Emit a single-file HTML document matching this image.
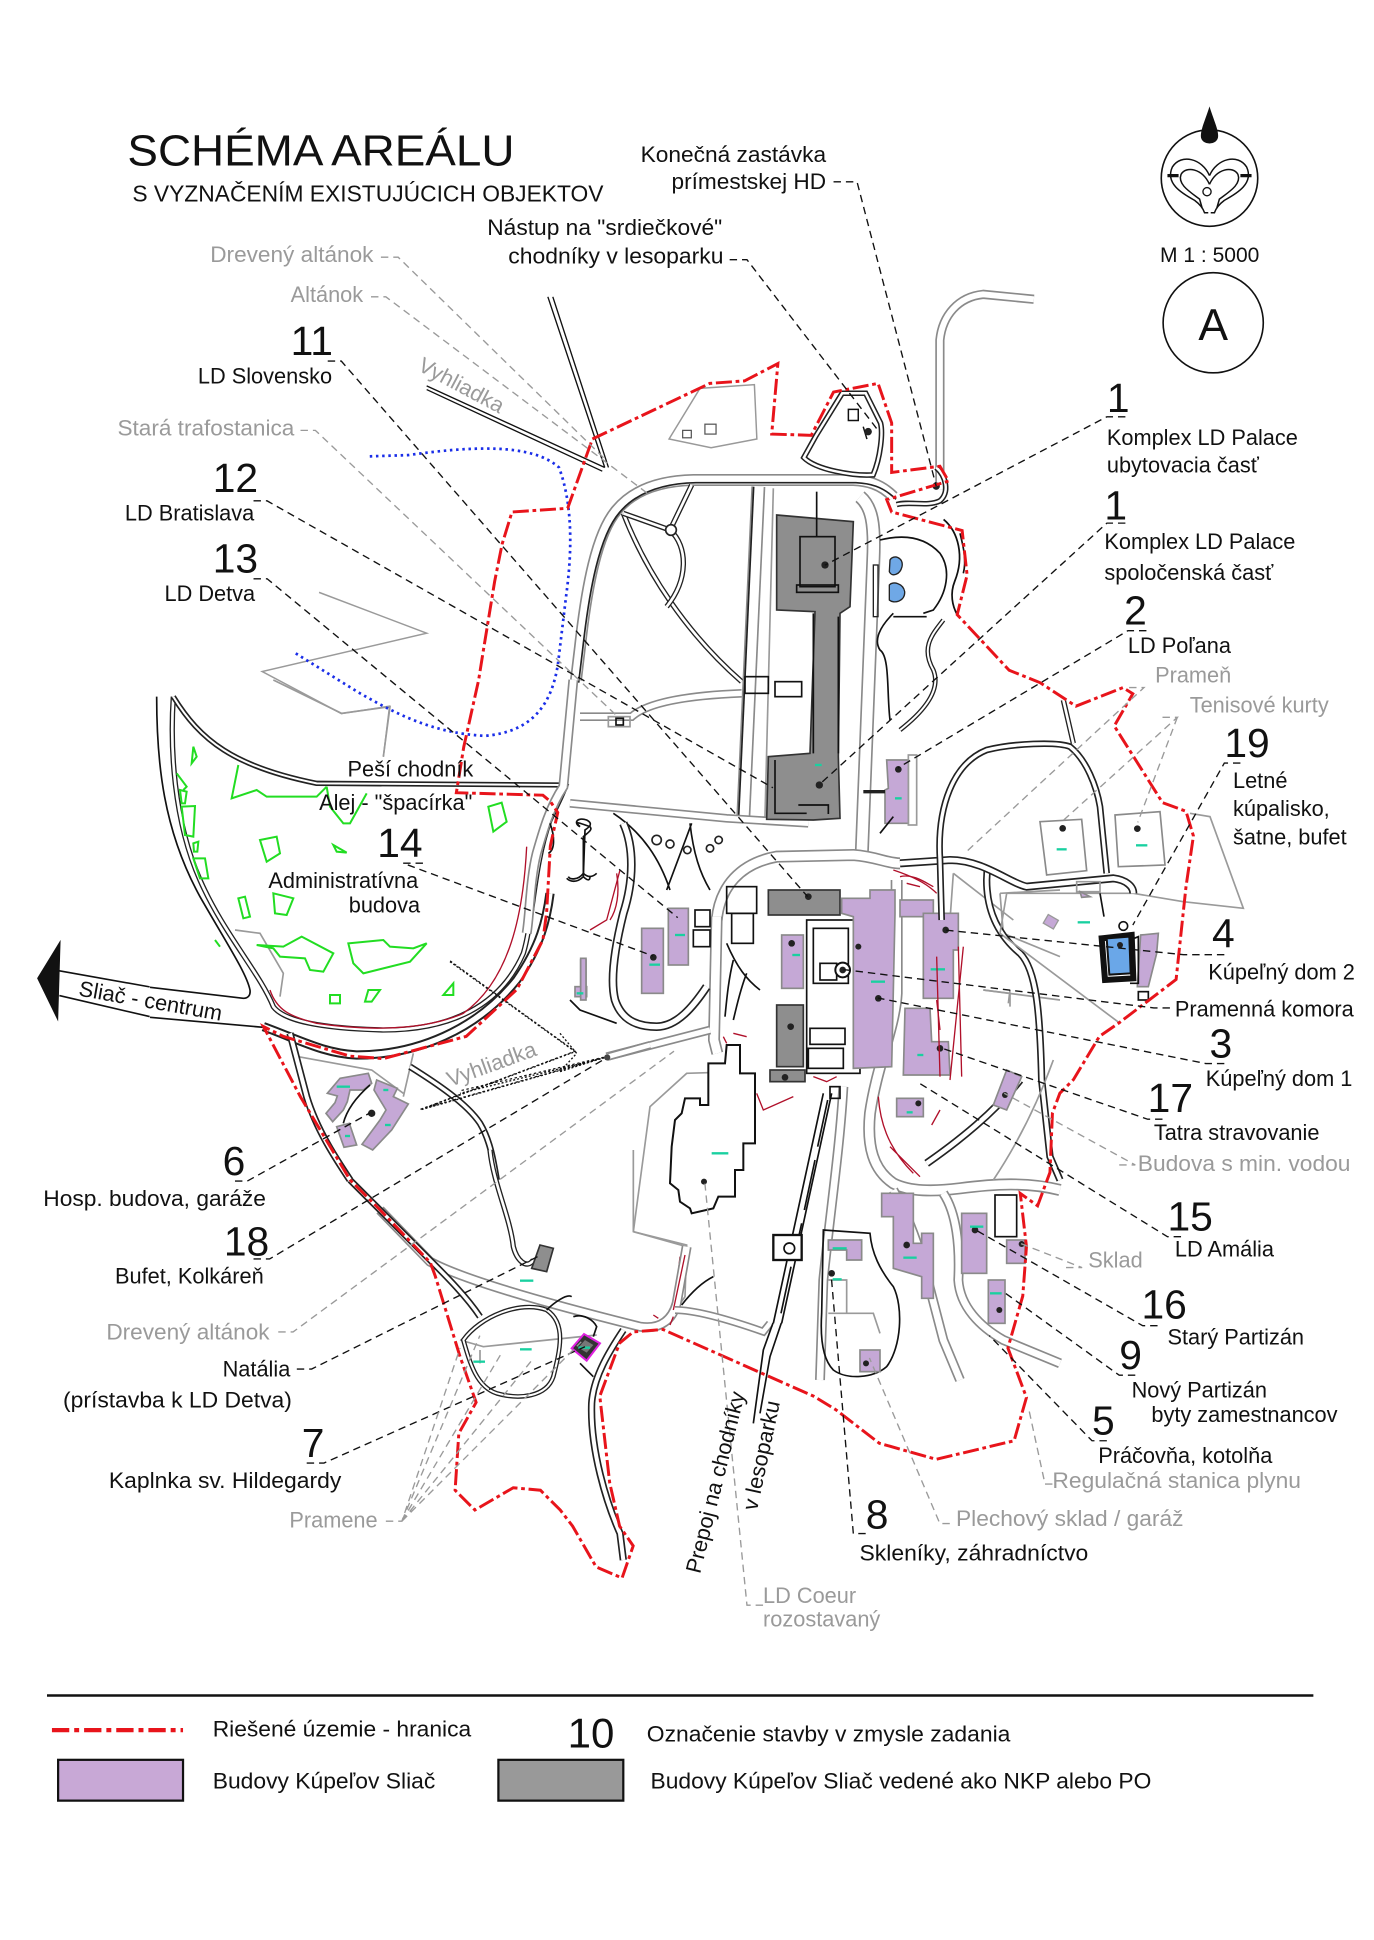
<!DOCTYPE html>
<html><head><meta charset="utf-8">
<style>
html,body{margin:0;padding:0;background:#fff;}
svg{display:block;}
text{font-family:"Liberation Sans",Arial,sans-serif;}
.t{font-size:17.6px;fill:#111;}
.g{font-size:17.6px;fill:#9a9a9a;}
.n{font-size:33px;fill:#111;}
.ld{fill:none;stroke:#111;stroke-width:1.1;stroke-dasharray:6 4;}
.lg{fill:none;stroke:#9a9a9a;stroke-width:1.1;stroke-dasharray:6 4;}
.pu{fill:#c5a8d6;stroke:#8a8a8a;stroke-width:5;}
.gb{fill:#8e8e8e;stroke:#333;stroke-width:5;}
.ol{fill:none;stroke:#111;stroke-width:5;}
.gl{fill:none;stroke:#9a9a9a;stroke-width:5;}
.gr{fill:none;stroke:#22dd22;stroke-width:6;}
.rl{fill:none;stroke:#b0102a;stroke-width:4;}
.cy{stroke:#19d0a0;stroke-width:7;}
</style></head>
<body>
<svg width="1374" height="1940" viewBox="0 0 1374 1940" xmlns="http://www.w3.org/2000/svg" xmlns:xlink="http://www.w3.org/1999/xlink">
<defs>
<!-- zoom8 roads -->
<path id="a1" d="M1000,110 C960,70 920,62 880,60 L400,60 C300,62 220,90 170,150 C110,220 80,380 60,560 L48,660"/>
<path id="a2" d="M190,160 C260,340 380,520 545,665"/>
<path id="a3" d="M190,160 L330,210 L395,75 M330,210 C385,260 385,360 320,440"/>
<path id="a4" d="M595,80 L550,1070"/>
<path id="a5" d="M900,110 C935,140 945,190 940,300 L905,1190"/>
<path id="a6" d="M60,770 L215,770 C270,720 420,705 545,700"/>
<path id="a7" d="M30,1030 L500,1075 L745,1090"/>
<path id="a8" d="M470,1380 C480,1280 540,1210 650,1190 L880,1185 C950,1190 980,1210 1020,1210"/>
<!-- zoom9 roads -->
<path id="b1" d="M470,110 L462,480 L472,520"/>
<path id="b2" d="M1010,0 L1010,340 C1005,440 950,560 930,700 C920,800 940,870 1000,910 C1050,935 1120,935 1200,925 C1300,912 1400,905 1500,930"/>
<path id="b3" d="M1000,930 C1040,1000 1070,1080 1090,1150 L1150,1380 L1200,1500"/>
<path id="b4" d="M1150,940 C1190,1000 1200,1100 1195,1200 C1200,1280 1260,1340 1330,1380 L1500,1450"/>
<path id="b5" d="M850,620 C840,800 810,1000 790,1200 L780,1500"/>
<path id="b6" d="M190,-170 C222,-100 222,0 190,100 C165,200 150,300 165,360 C185,420 230,440 290,440 C350,440 400,380 440,320"/>
<path id="b7" d="M140,530 L450,450"/>
<path id="b8" d="M1100,850 C1200,780 1300,700 1380,600"/>
<path id="b9" d="M1282,-40 L1280,0 C1280,100 1320,170 1380,220 C1430,270 1440,400 1445,600 L1470,830 L1500,900"/>
<!-- zoom10 roads -->
<path id="c1" d="M70,50 C60,200 70,420 150,600 C220,760 330,880 370,980 C400,1020 500,1045 700,1050 C900,1050 1050,980 1120,820 C1150,720 1150,560 1200,420 C1220,380 1240,340 1250,310"/>
<path id="c2" d="M70,50 C150,180 250,260 500,310 L1240,315"/>
<path id="c3" d="M340,1040 C450,1080 520,1120 620,1125 C800,1125 980,1050 1100,900 C1170,800 1190,720 1200,640"/>
<path id="c4" d="M1270,0 L1240,320 C1200,380 1180,450 1160,520 C1140,600 1140,700 1130,760"/>
<path id="c5" d="M420,1060 L470,1250 C500,1350 560,1440 600,1500"/>
<path id="c6" d="M780,1160 C860,1210 950,1270 990,1330 C1020,1380 1030,1440 1040,1500"/>
<path id="c7" d="M1375,1130 L1500,1095"/>
<!-- zoom11 roads -->
<path id="d1" d="M0,180 L150,335 C250,390 500,460 780,530 C845,540 878,505 890,460 L920,290"/>
<path id="d2" d="M-90,90 L150,330 C200,380 260,440 300,500"/>
<path id="d3" d="M330,0 C340,100 390,200 400,290 C410,330 440,360 460,330"/>
<path id="d4" d="M250,570 C300,500 420,450 500,480 C560,520 540,600 520,680 C500,740 420,750 350,730 C290,710 270,640 250,570 Z"/>
<path id="d5" d="M730,540 C690,600 640,680 635,760 C630,900 680,1060 720,1150 L730,1230"/>
<path id="d6" d="M885,480 C950,480 1050,510 1150,545 L1170,520"/>
<!-- zoom12 roads -->
<path id="e1" d="M0,730 L150,720 C250,720 330,790 380,800 L640,775 C680,780 700,800 700,820"/>
<path id="e2" d="M125,900 L120,720 C110,560 160,430 260,390 C340,370 470,365 510,380 C560,420 590,500 600,560 L620,760"/>
<path id="e3" d="M490,240 L520,370"/>
<path id="e4" d="M130,0 C100,40 60,80 100,150 C120,200 90,260 0,330"/>
<!-- display roads -->
<path id="f1" d="M760,396 L760,275 C762,255 775,240 795,238 L836,242"/>
<path id="f2" d="M681,318 L660,352 L650,370 C660,380 690,385 706,384 C712,370 714,350 712,342 L700,318 Z"/>
<path id="f3" d="M757,378 C765,385 768,398 760,405 C750,410 735,405 725,408"/>
</defs>
<rect x="0" y="0" width="1374" height="1940" fill="#fff"/>

<!-- ===== ZOOM8 region ===== -->
<g transform="translate(560,460) scale(0.333333)">
<use xlink:href="#a1" fill="none" stroke="#8a8a8a" stroke-width="36"/><use xlink:href="#a1" fill="none" stroke="#fff" stroke-width="26"/>
<use xlink:href="#a1" fill="none" stroke="#222" stroke-width="5" transform="translate(8,8)"/>
<use xlink:href="#a2" fill="none" stroke="#222" stroke-width="16"/><use xlink:href="#a2" fill="none" stroke="#fff" stroke-width="8"/>
<use xlink:href="#a3" fill="none" stroke="#222" stroke-width="16"/><use xlink:href="#a3" fill="none" stroke="#fff" stroke-width="8"/>
<circle cx="333" cy="210" r="16" fill="#fff" stroke="#222" stroke-width="5"/>
<use xlink:href="#a4" fill="none" stroke="#8a8a8a" stroke-width="42"/><use xlink:href="#a4" fill="none" stroke="#fff" stroke-width="32"/>
<use xlink:href="#a4" fill="none" stroke="#222" stroke-width="5" transform="translate(-14,0)"/>
<path d="M640,85 L615,1070" class="gl"/>
<use xlink:href="#a5" fill="none" stroke="#8a8a8a" stroke-width="42"/><use xlink:href="#a5" fill="none" stroke="#fff" stroke-width="32"/>
<use xlink:href="#a6" fill="none" stroke="#8a8a8a" stroke-width="26"/><use xlink:href="#a6" fill="none" stroke="#fff" stroke-width="16"/>
<use xlink:href="#a7" fill="none" stroke="#8a8a8a" stroke-width="26"/><use xlink:href="#a7" fill="none" stroke="#fff" stroke-width="16"/>
<use xlink:href="#a8" fill="none" stroke="#8a8a8a" stroke-width="36"/><use xlink:href="#a8" fill="none" stroke="#fff" stroke-width="26"/>
<path d="M960,240 C1020,225 1090,225 1140,280 C1175,330 1160,400 1120,450 L1090,460" class="ol" stroke-width="8"/>
<path d="M1000,460 C960,500 940,540 960,570 C990,590 980,700 990,780" class="ol" stroke-width="6"/>
<path d="M1200,220 C1210,260 1220,300 1210,340" class="ol" stroke-width="8"/>
<path d="M1000,470 L1100,470" class="ol" stroke-width="8"/>
<!-- palace -->
<path d="M650,165 L880,185 L870,440 L840,460 L835,890 L840,1075 L760,1080 L620,1078 L625,890 L750,880 L765,455 L650,450 Z" class="gb"/>
<rect x="720" y="230" width="105" height="150" class="ol" stroke-width="7"/>
<rect x="710" y="375" width="125" height="22" class="ol" stroke-width="6"/>
<path d="M760,460 L760,880 M835,470 L835,880" class="ol" stroke-width="8"/>
<path d="M645,900 L645,1060 L740,1060 M715,1035 L805,1035 L805,1062" class="ol" stroke-width="5"/>
<circle cx="795" cy="315" r="11" fill="#222"/><circle cx="778" cy="975" r="11" fill="#222"/>
<line x1="765" y1="915" x2="785" y2="915" class="cy"/>
<path d="M770,95 L770,230" class="ol" stroke-width="6"/>
<!-- pools -->
<path d="M990,300 C1000,282 1032,292 1026,320 C1020,345 995,352 988,335 Z" fill="#6fa8e6" stroke="#222" stroke-width="4"/>
<path d="M988,375 C998,362 1030,370 1034,395 C1036,425 1000,432 988,420 Z" fill="#6fa8e6" stroke="#222" stroke-width="4"/>
<rect x="940" y="315" width="14" height="155" fill="none" stroke="#222" stroke-width="4"/>
<!-- Polana -->
<path d="M980,900 L1045,900 L1045,1090 L975,1090 L975,990 L985,985 Z" class="pu"/>
<circle cx="1015" cy="928" r="10" fill="#222"/><line x1="1005" y1="1015" x2="1025" y2="1015" class="cy"/>
<rect x="1045" y="885" width="25" height="210" class="gl"/>
<path d="M910,995 L975,995" stroke="#222" stroke-width="10"/>
<!-- small structures -->
<rect x="555" y="650" width="70" height="50" class="ol"/><rect x="645" y="665" width="80" height="45" class="ol"/>
<rect x="145" y="770" width="65" height="30" class="gl"/><rect x="168" y="775" width="22" height="20" class="ol"/>
<path d="M1000,1070 L960,1120" class="ol"/>
<path d="M60,1100 C40,1080 60,1090 90,1100 C100,1110 80,1120 70,1130 L70,1240 C55,1260 30,1260 25,1250 M70,1240 C85,1255 100,1250 110,1240" class="ol" stroke-width="8"/>
<circle cx="290" cy="1140" r="14" fill="#fff" stroke="#222" stroke-width="5"/>
<circle cx="330" cy="1152" r="12" fill="#fff" stroke="#222" stroke-width="5"/>
<circle cx="382" cy="1170" r="11" fill="#fff" stroke="#222" stroke-width="5"/>
<circle cx="450" cy="1165" r="11" fill="#fff" stroke="#222" stroke-width="5"/>
<circle cx="476" cy="1140" r="11" fill="#fff" stroke="#222" stroke-width="5"/>
<path d="M160,1060 C250,1120 300,1200 330,1290 M390,1090 C400,1180 420,1240 450,1290 M395,1090 L320,1290" class="ol" stroke-width="6"/>
<path d="M1180,1240 L1170,1380 M1180,1240 L1360,1380" class="gl"/>
<path d="M170,1240 C180,1300 170,1350 150,1380" class="rl"/>
<path d="M1000,1230 C1060,1250 1100,1270 1130,1300" class="rl"/>
</g>

<!-- ===== ZOOM9 region ===== -->
<g transform="translate(560,880) scale(0.333333)">
<path d="M220,1055 L380,1095 L375,1250 L340,1300 M220,1055 L270,680 L380,580 L540,575" class="gl"/>
<path d="M1320,40 L1500,30 M1320,40 L1330,160 L1500,230 M1270,330 L1500,360 M1350,330 L1345,370" class="gl"/>
<use xlink:href="#b1" fill="none" stroke="#8a8a8a" stroke-width="36"/><use xlink:href="#b1" fill="none" stroke="#fff" stroke-width="26"/>
<use xlink:href="#b2" fill="none" stroke="#8a8a8a" stroke-width="36"/><use xlink:href="#b2" fill="none" stroke="#fff" stroke-width="26"/>
<use xlink:href="#b3" fill="none" stroke="#8a8a8a" stroke-width="30"/><use xlink:href="#b3" fill="none" stroke="#fff" stroke-width="20"/>
<use xlink:href="#b4" fill="none" stroke="#8a8a8a" stroke-width="30"/><use xlink:href="#b4" fill="none" stroke="#fff" stroke-width="20"/>
<use xlink:href="#b5" fill="none" stroke="#8a8a8a" stroke-width="30"/><use xlink:href="#b5" fill="none" stroke="#fff" stroke-width="20"/>
<use xlink:href="#b6" fill="none" stroke="#222" stroke-width="26"/><use xlink:href="#b6" fill="none" stroke="#fff" stroke-width="16"/>
<use xlink:href="#b7" fill="none" stroke="#8a8a8a" stroke-width="26"/><use xlink:href="#b7" fill="none" stroke="#fff" stroke-width="16"/>
<use xlink:href="#b8" fill="none" stroke="#222" stroke-width="24"/><use xlink:href="#b8" fill="none" stroke="#fff" stroke-width="14"/>
<use xlink:href="#b9" fill="none" stroke="#222" stroke-width="22"/><use xlink:href="#b9" fill="none" stroke="#fff" stroke-width="12"/>
<path d="M1300,900 C1380,780 1440,650 1480,540" class="gl" stroke-width="10"/>
<path d="M0,460 L50,520 L0,575 M0,575 L140,530" fill="none" stroke="#111" stroke-width="4" stroke-dasharray="6 6"/>
<!-- colonnade -->
<path d="M790,640 L640,1330 M815,640 L665,1330" class="ol" stroke-width="7"/>
<path d="M800,660 L770,800 M762,840 L730,990 M722,1030 L700,1130 M690,1160 L660,1300" class="ol" stroke-width="5" transform="translate(3,0)"/>
<rect x="640" y="1065" width="85" height="75" fill="#fff" stroke="#111" stroke-width="7"/>
<circle cx="688" cy="1105" r="16" fill="#fff" stroke="#111" stroke-width="5"/>
<rect x="810" y="620" width="30" height="35" class="ol"/>
<!-- lot 8 -->
<path d="M790,1050 L930,1060 C935,1120 960,1170 1000,1220 C1030,1280 1025,1400 980,1460 C940,1495 860,1500 820,1470 C790,1440 780,1380 785,1300 Z" class="ol"/>
<path d="M805,1200 L860,1200 L860,1300 M805,1300 L940,1300 L960,1360" class="gl"/>
<!-- center outlines -->
<rect x="760" y="145" width="105" height="165" class="ol"/><rect x="780" y="250" width="50" height="50" class="ol"/>
<rect x="750" y="445" width="105" height="48" class="ol"/><rect x="745" y="505" width="105" height="60" class="ol"/>
<rect x="500" y="20" width="90" height="80" class="ol"/><rect x="515" y="100" width="65" height="90" class="ol"/>
<rect x="405" y="90" width="45" height="50" class="ol"/><rect x="400" y="150" width="50" height="50" class="ol"/>
<rect x="880" y="330" width="40" height="110" class="ol"/><rect x="740" y="120" width="160" height="460" class="ol" stroke-width="4"/>
<circle cx="848" cy="270" r="22" fill="#fff" stroke="#111" stroke-width="6"/>
<path d="M500,190 C530,260 560,300 600,330 M520,240 C505,300 500,360 495,410 M560,280 C540,330 530,380 520,420" class="ol" stroke-width="6"/>
<!-- stepped building -->
<path d="M500,495 L540,495 L540,580 L585,580 L585,790 L550,790 L550,870 L525,870 L525,950 L475,950 L460,985 L395,1000 L390,985 L360,965 L355,930 L330,910 L335,800 L345,720 L365,700 L375,655 L420,655 L420,675 L445,675 L445,550 L495,550 Z" fill="#fff" stroke="#111" stroke-width="6"/>
<line x1="455" y1="820" x2="505" y2="820" class="cy"/><circle cx="432" cy="905" r="9" fill="#222"/>
<!-- buildings -->
<rect x="625" y="30" width="215" height="75" class="gb"/>
<path d="M845,55 L930,55 L930,30 L1005,30 L1005,100 L995,560 L880,565 L880,110 L845,100 Z" class="pu"/>
<rect x="1020" y="60" width="100" height="50" class="pu"/>
<path d="M1090,100 L1195,100 L1195,210 L1180,210 L1180,355 L1090,355 Z" class="pu"/>
<path d="M1035,385 L1110,385 L1115,485 L1165,485 L1170,585 L1030,585 Z" class="pu"/>
<rect x="665" y="165" width="65" height="160" class="pu"/>
<rect x="650" y="375" width="80" height="185" class="gb"/><rect x="630" y="570" width="105" height="35" class="gb"/>
<rect x="245" y="145" width="65" height="195" class="pu"/><rect x="325" y="85" width="60" height="170" class="pu"/>
<rect x="62" y="240" width="16" height="100" class="pu"/><rect x="45" y="320" width="35" height="30" class="pu"/>
<rect x="1010" y="655" width="80" height="55" class="pu"/>
<path d="M1340,570 L1385,590 L1340,690 L1300,675 Z" class="pu"/>
<path d="M965,940 L1060,940 L1060,1090 L1085,1090 L1085,1060 L1120,1060 L1120,1255 L1085,1255 L1085,1190 L1000,1165 L1000,1010 L965,1010 Z" class="pu"/>
<rect x="1205" y="1000" width="75" height="180" class="pu"/>
<rect x="1340" y="1080" width="55" height="70" class="pu"/>
<rect x="1285" y="1200" width="50" height="130" class="pu"/>
<path d="M805,1080 L905,1080 L905,1140 L860,1140 L860,1110 L805,1110 Z" class="pu"/>
<rect x="900" y="1410" width="60" height="65" class="pu"/>
<rect x="1305" y="945" width="65" height="125" class="ol"/>
<g fill="#222">
<circle cx="745" cy="50" r="10"/><circle cx="1157" cy="150" r="10"/><circle cx="955" cy="355" r="10"/><circle cx="895" cy="200" r="9"/>
<circle cx="695" cy="190" r="10"/><circle cx="692" cy="440" r="10"/><circle cx="675" cy="592" r="10"/>
<circle cx="280" cy="232" r="10"/><circle cx="1140" cy="505" r="10"/><circle cx="1075" cy="670" r="9"/><circle cx="1335" cy="645" r="9"/>
<circle cx="1040" cy="1095" r="10"/><circle cx="1245" cy="1050" r="10"/><circle cx="1385" cy="1092" r="9"/><circle cx="1318" cy="1290" r="9"/>
<circle cx="815" cy="1180" r="10"/><circle cx="918" cy="1450" r="9"/><circle cx="848" cy="270" r="10"/>
</g>
<g class="cy">
<line x1="345" y1="165" x2="375" y2="165"/><line x1="268" y1="254" x2="300" y2="254"/><line x1="697" y1="225" x2="720" y2="225"/>
<line x1="933" y1="305" x2="975" y2="305"/><line x1="1112" y1="268" x2="1155" y2="268"/><line x1="1072" y1="525" x2="1090" y2="525"/>
<line x1="1030" y1="1133" x2="1070" y2="1133"/><line x1="1230" y1="1040" x2="1270" y2="1040"/><line x1="1290" y1="1240" x2="1325" y2="1240"/>
<line x1="818" y1="1105" x2="860" y2="1105"/><line x1="818" y1="1198" x2="845" y2="1198"/><line x1="1040" y1="697" x2="1058" y2="697"/>
</g>
<path d="M590,640 L610,690 L700,650 M760,590 L800,605 L830,590 M955,650 C960,720 980,800 1060,880 M990,800 C1030,840 1060,870 1080,890 M1140,690 L1115,735 M1210,200 L1170,600 M1130,360 L1140,450 M520,460 L560,470 M490,470 L500,490 M360,1130 L345,1270" class="rl"/>
</g>

<!-- ===== ZOOM10 region ===== -->
<g transform="translate(150,680) scale(0.333333)">
<path d="M370,0 L575,100 L720,80 L700,230 M255,750 L330,760 L400,880 L390,950" class="gl"/>
<path d="M445,1130 L665,1170 L760,1240 M790,1120 L760,1250" class="gl"/>
<path d="M20,50 C20,250 40,450 150,650 C230,790 290,880 300,930 C302,945 295,955 280,955 L0,922" class="ol" stroke-width="6"/>
<path d="M0,1012 L340,1042" class="ol" stroke-width="6"/>
<use xlink:href="#c1" fill="none" stroke="#222" stroke-width="16"/><use xlink:href="#c1" fill="none" stroke="#fff" stroke-width="8"/>
<use xlink:href="#c2" fill="none" stroke="#222" stroke-width="16"/><use xlink:href="#c2" fill="none" stroke="#fff" stroke-width="6"/>
<use xlink:href="#c3" fill="none" stroke="#222" stroke-width="28"/><use xlink:href="#c3" fill="none" stroke="#fff" stroke-width="16"/>
<use xlink:href="#c4" fill="none" stroke="#8a8a8a" stroke-width="30"/><use xlink:href="#c4" fill="none" stroke="#fff" stroke-width="20"/>
<use xlink:href="#c5" fill="none" stroke="#222" stroke-width="22"/><use xlink:href="#c5" fill="none" stroke="#fff" stroke-width="12"/>
<use xlink:href="#c6" fill="none" stroke="#222" stroke-width="20"/><use xlink:href="#c6" fill="none" stroke="#fff" stroke-width="10"/>
<use xlink:href="#c7" fill="none" stroke="#8a8a8a" stroke-width="24"/><use xlink:href="#c7" fill="none" stroke="#fff" stroke-width="14"/>
<path d="M1130,500 C1120,700 1080,900 940,1000 C850,1040 700,1060 500,1030 C420,1010 380,990 360,930" class="rl" stroke-width="3"/>
<path d="M1320,750 L1370,720 L1410,570" class="rl"/>
<path d="M1290,440 C1270,430 1280,410 1310,420 C1330,430 1320,440 1305,450 L1300,590 C1280,610 1260,605 1250,595 M1300,590 C1315,605 1320,600 1320,590" class="ol" stroke-width="9"/>
<path d="M1260,960 L1290,990 L1400,1030" class="ol" stroke-width="8"/>
<path d="M1200,430 C1215,470 1215,510 1195,520" class="ol" stroke-width="7"/>
<!-- green -->
<g class="gr">
<path d="M130,200 L140,230 L125,250 Z"/>
<path d="M265,255 L245,355 L320,330 L350,350 L500,350 L530,320"/>
<path d="M530,320 L540,380 L580,430 L600,430 L650,340"/>
<path d="M330,480 L380,470 L390,520 L350,545 Z"/>
<path d="M550,495 L590,518 L560,515 Z"/>
<path d="M1015,380 L1055,368 L1070,425 L1030,455 Z"/>
<path d="M80,280 L110,320 L100,330 M90,330 L110,335 L105,370 L95,370 Z"/>
<path d="M95,380 L135,378 L130,470 L105,465 Z"/>
<path d="M130,490 L145,485 L142,515 L132,515 Z"/>
<path d="M130,535 L165,535 L175,595 L150,595 Z"/>
<path d="M265,655 L285,650 L300,710 L280,715 Z"/>
<path d="M370,640 L430,655 L410,705 L375,700 Z"/>
<path d="M320,795 L400,800 L455,770 L550,820 L520,875 L480,870 L465,835 L390,830 L370,805 Z"/>
<path d="M595,790 L700,780 L720,800 L790,805 L830,790 L780,845 L640,880 L610,850 Z"/>
<path d="M540,945 L570,945 L570,970 L540,970 Z"/>
<path d="M655,930 L690,930 L665,965 L645,965 Z"/>
<path d="M880,945 L910,910 L910,945 Z"/>
<path d="M195,780 L210,800"/>
</g>
<path d="M900,845 L1275,1115 L810,1290 M1375,1130 L810,1290 M1375,1130 L930,1240" fill="none" stroke="#111" stroke-width="4" stroke-dasharray="6 6"/>
<!-- hosp budova -->
<path d="M570,1195 L655,1180 L665,1210 L640,1230 L600,1230 L592,1265 L580,1290 L548,1325 L528,1300 L555,1268 L562,1248 L532,1240 Z" class="pu"/>
<path d="M680,1200 L742,1225 L730,1250 L775,1272 L725,1350 L668,1410 L636,1393 L690,1320 L708,1290 L672,1230 Z" class="pu"/>
<path d="M560,1340 L598,1330 L620,1395 L582,1402 Z" class="pu"/>
<path d="M660,1215 C620,1250 590,1290 580,1330" class="ol" stroke-width="7"/>
<circle cx="665" cy="1300" r="11" fill="#222"/>
<line x1="560" y1="1220" x2="600" y2="1220" class="cy"/><line x1="700" y1="1230" x2="715" y2="1230" class="cy"/><line x1="705" y1="1335" x2="722" y2="1335" class="cy"/><line x1="585" y1="1368" x2="600" y2="1368" class="cy"/>
<rect x="1292" y="835" width="16" height="125" class="pu"/><line x1="1280" y1="940" x2="1300" y2="940" class="cy"/>
</g>

<!-- ===== ZOOM11 region ===== -->
<g transform="translate(380,1150) scale(0.333333)">
<path d="M760,0 L760,245 L920,290" class="gl"/>
<path d="M240,570 L310,590 L650,555 M300,600 L300,640" class="gl" stroke-width="6"/>
<use xlink:href="#d1" fill="none" stroke="#8a8a8a" stroke-width="30"/><use xlink:href="#d1" fill="none" stroke="#fff" stroke-width="20"/>
<use xlink:href="#d2" fill="none" stroke="#222" stroke-width="20"/><use xlink:href="#d2" fill="none" stroke="#fff" stroke-width="10"/>
<use xlink:href="#d3" fill="none" stroke="#222" stroke-width="16"/><use xlink:href="#d3" fill="none" stroke="#fff" stroke-width="8"/>
<use xlink:href="#d4" fill="none" stroke="#222" stroke-width="14"/><use xlink:href="#d4" fill="none" stroke="#fff" stroke-width="6"/>
<use xlink:href="#d5" fill="none" stroke="#222" stroke-width="22"/><use xlink:href="#d5" fill="none" stroke="#fff" stroke-width="12"/>
<use xlink:href="#d6" fill="none" stroke="#8a8a8a" stroke-width="24"/><use xlink:href="#d6" fill="none" stroke="#fff" stroke-width="14"/>
<path d="M905,465 C940,420 970,395 1000,380" class="ol" stroke-width="10"/>
<path d="M1179,519 L1150,600 L1120,820 M1204,519 L1170,620 L1140,790" class="ol" stroke-width="7"/>
<path d="M500,480 C520,460 560,430 575,440 M580,500 C610,490 640,510 650,530 L640,560" class="ol" stroke-width="6"/>
<path d="M600,640 L640,680" class="ol" stroke-width="10"/>
<path d="M480,285 L520,295 L500,365 L455,355 Z" class="gb"/>
<path d="M575,595 L612,552 L660,580 L620,632 Z" fill="#333" stroke="#e020e0" stroke-width="6"/>
<path d="M595,593 L615,570 L640,585 L620,608 Z" fill="#777"/>
<line x1="420" y1="392" x2="460" y2="392" class="cy"/><line x1="420" y1="598" x2="455" y2="598" class="cy"/><line x1="280" y1="635" x2="315" y2="635" class="cy"/><line x1="595" y1="593" x2="630" y2="593" class="cy"/>
<path d="M880,500 L870,525 M820,495 L835,505" class="rl"/>
<path d="M915,315 L880,480" class="rl"/>
</g>

<!-- ===== ZOOM12 region ===== -->
<g transform="translate(900,620) scale(0.333333)">
<path d="M320,820 L700,820 L850,845 L1030,865 L930,590 L870,580 M320,820 L300,940 L660,1210 M250,1110 L330,1120 L330,1160" class="gl"/>
<path d="M420,605 L545,598 L560,752 L440,765 Z M645,585 L780,575 L795,735 L655,740 Z" fill="#fff" stroke="#8a8a8a" stroke-width="5"/>
<use xlink:href="#e1" fill="none" stroke="#222" stroke-width="24"/><use xlink:href="#e1" fill="none" stroke="#fff" stroke-width="14"/>
<use xlink:href="#e2" fill="none" stroke="#222" stroke-width="20"/><use xlink:href="#e2" fill="none" stroke="#fff" stroke-width="10"/>
<use xlink:href="#e3" fill="none" stroke="#222" stroke-width="16"/><use xlink:href="#e3" fill="none" stroke="#fff" stroke-width="8"/>
<use xlink:href="#e4" fill="none" stroke="#222" stroke-width="14"/><use xlink:href="#e4" fill="none" stroke="#fff" stroke-width="6"/>
<path d="M530,785 L600,785 L600,815 L530,815 Z" class="gl"/>
<path d="M540,815 L570,830 L545,832 Z" class="pu"/>
<path d="M600,820 L612,890" class="ol" stroke-width="5"/>
<path d="M605,955 L695,945 L700,1075 L615,1080 Z" fill="none" stroke="#111" stroke-width="18"/>
<path d="M620,955 L688,950 L692,1060 L628,1064 Z" fill="#6aa7e8" stroke="#111" stroke-width="6"/>
<path d="M722,945 L775,940 L770,1000 L745,1100 L712,1100 Z" class="pu"/>
<path d="M690,960 L715,950 L715,1090 L690,1090" class="ol" stroke-width="7"/>
<circle cx="670" cy="918" r="13" fill="#fff" stroke="#111" stroke-width="5"/>
<rect x="715" y="1115" width="30" height="25" class="ol"/>
<rect x="435" y="890" width="35" height="30" fill="#c5a8d6" stroke="#999" stroke-width="4" transform="rotate(30 452 905)"/>
<g fill="#222"><circle cx="488" cy="625" r="10"/><circle cx="712" cy="626" r="10"/><circle cx="660" cy="975" r="9"/></g>
<g class="cy"><line x1="470" y1="688" x2="500" y2="688"/><line x1="708" y1="676" x2="742" y2="676"/><line x1="533" y1="907" x2="570" y2="907"/></g>
<path d="M0,770 C40,760 80,790 100,800 M20,790 L60,800" class="rl"/>
<path d="M175,980 L185,1370 M110,1010 L120,1370" class="rl" stroke-width="3"/>
</g>

<!-- ===== DISPLAY-COORD LAYER ===== -->
<g transform="scale(1.2367)">
<!-- top roads -->
<use xlink:href="#f1" fill="none" stroke="#8a8a8a" stroke-width="7.5"/><use xlink:href="#f1" fill="none" stroke="#fff" stroke-width="4.8"/>
<use xlink:href="#f2" fill="none" stroke="#222" stroke-width="4.5"/><use xlink:href="#f2" fill="none" stroke="#fff" stroke-width="2"/>
<use xlink:href="#f3" fill="none" stroke="#222" stroke-width="4.5"/><use xlink:href="#f3" fill="none" stroke="#fff" stroke-width="2"/>
<path d="M443,240 L489,378 M447,240 L492,378 M345,312 L489,378 M345,315 L487,381" fill="none" stroke="#111" stroke-width="1.1"/>
<path d="M541,355 L566,314 L610,311 L612,355 L575,362 Z" fill="none" stroke="#999" stroke-width="1.2"/>
<rect x="570" y="343" width="9" height="8" fill="none" stroke="#555" stroke-width="1"/><rect x="552" y="348" width="7" height="6" fill="none" stroke="#555" stroke-width="1"/>
<path d="M686,331 L694,331 L694,340 L686,340 Z M698,345 L701,355" fill="none" stroke="#111" stroke-width="1.2"/>
<circle cx="702" cy="349" r="3" fill="#222"/><circle cx="757" cy="393" r="3" fill="#222"/>
<path d="M763,420 C775,430 780,450 772,470 C768,480 770,490 774,497" fill="none" stroke="#111" stroke-width="1.4"/>
<!-- left area -->
<path d="M258,479 L345,512 L212,543 L276,577 L315,571 L310,612" fill="none" stroke="#9a9a9a" stroke-width="1.2"/>
<path d="M299,369 L330,368 C380,361 430,358 452,378 C464,410 462,450 458,480 L452,530 C448,570 430,592 392,595 C350,593 320,577 290,560 L237,527" fill="none" stroke="#1a2ee8" stroke-width="2.2" stroke-dasharray="2 3"/>
<path d="M48,785 L121,798 M48,805 L121,822" fill="none" stroke="#111" stroke-width="1.3"/>
<path d="M30,791 L49,760 L47,826 Z" fill="#111"/>
<!-- red boundary -->
<path d="M479,355 L574,310 L602,308 L629,294 L624,351 L656,352 L674,317 L710,310 L721,342 L721,382 L760,377 L767,389 L717,404 L721,414 L778,429 L782,465 L774,497 L816,542 L841,552 L870,571 L908,556 L916,561 L901,587 L940,649 L959,656 L965,676 L959,717 L951,792 L905,827 L889,838 L868,873 L857,884 L851,900 L849,948 L839,975 L825,965 L830,1008 L827,1048 L815,1090 L830,1130 L820,1165 L757,1180 L711,1167 L676,1140 L658,1129 L536,1075 L512,1077 L501,1086 L485,1129 L493,1199 L501,1234 L512,1250 L503,1276 L482,1267 L463,1234 L453,1221 L437,1205 L415,1203 L384,1221 L368,1205 L371,1159 L385,1134 L372,1097 L352,1032 L348,1021 L307,978 L283,954 L243,887 L213,830 L229,838 L283,854 L310,856 L377,838 L418,800 L439,760 L442,738 L445,684 L451,657 L445,648 L439,643 L369,641 L375,604 L387,550 L391,525 L400,470 L406,440 L414,414 L459,411 Z" fill="none" stroke="#e8141b" stroke-width="2.4" stroke-dasharray="13 3 3 3"/>
<!-- black leaders -->
<path class="ld" d="M674,147 L693,147 L757,393"/>
<path class="ld" d="M590,210 L604,210 L710,348"/>
<path class="ld" d="M265,292 L276,292 L653,725"/>
<path class="ld" d="M205,405 L216,405 L625,637"/>
<path class="ld" d="M205,468 L216,468 L548,742"/>
<path class="ld" d="M342,698 L326,698 L528,773"/>
<path class="ld" d="M910,337 L895,337 L667,457"/>
<path class="ld" d="M910,423 L895,423 L663,634"/>
<path class="ld" d="M927,510 L912,510 L726,621"/>
<path class="ld" d="M1003,617 L990,617 L916,748"/>
<path class="ld" d="M990,772 L957,772 L764,752"/>
<path class="ld" d="M946,815 L933,815 L682,784"/>
<path class="ld" d="M990,860 L975,860 L710,807"/>
<path class="ld" d="M940,905 L928,905 L760,847"/>
<path class="ld" d="M955,1000 L944,1000 L742,875"/>
<path class="ld" d="M936,1072 L924,1072 L788,994"/>
<path class="ld" d="M918,1112 L905,1112 L812,1045"/>
<path class="ld" d="M895,1165 L883,1165 L800,1080"/>
<path class="ld" d="M700,1240 L690,1240 L672,1030"/>
<path class="ld" d="M248,1183 L262,1183 L473,1089"/>
<path class="ld" d="M240,1107 L252,1107 L437,1015"/>
<path class="ld" d="M205,1018 L218,1018 L491,855"/>
<path class="ld" d="M190,955 L200,955 L299,900"/>
<!-- gray leaders -->
<path class="lg" d="M308,208 L322,208 L490,372"/>
<path class="lg" d="M300,240 L312,240 L525,400"/>
<path class="lg" d="M243,348 L255,348 L500,580"/>
<path class="lg" d="M913,556 L925,556 L780,690"/>
<path class="lg" d="M940,580 L952,580 L858,665 M952,580 L920,665"/>
<path class="lg" d="M905,942 L918,942 L812,884"/>
<path class="lg" d="M862,1025 L875,1025 L824,1005"/>
<path class="lg" d="M851,1200 L845,1200 L832,1140"/>
<path class="lg" d="M768,1232 L760,1232 L703,1098"/>
<path class="lg" d="M617,1298 L604,1298 L570,957"/>
<path class="lg" d="M312,1230 L325,1230 L372,1090 M325,1230 L388,1080 M325,1230 L405,1095 M325,1230 L430,1100 M325,1230 L470,1085"/>
<path class="lg" d="M225,1077 L237,1077 L545,850"/>
<path d="M364,777 L465,850 L340,897 M492,854 L340,897 M492,854 L372,882" fill="none" stroke="#111" stroke-width="1" stroke-dasharray="2 2"/>
<circle cx="491" cy="855" r="2.5" fill="#444"/>
<!-- compass -->
<circle cx="978" cy="144" r="39" fill="#fff" stroke="#111" stroke-width="1.3"/>
<path d="M978,86 C975,96 971,104 971,110 C971,118 985,118 985,110 C985,104 981,96 978,86 Z" fill="#111"/>
<path d="M944,142 L953,142 M1003,142 L1012,142" stroke="#111" stroke-width="2.6"/>
<g fill="none" stroke="#111" stroke-width="1.2">
<path d="M978,142 C972,128 955,124 948,135 C942,148 955,156 966,162 C970,165 973,169 974,172 L977,172"/>
<path d="M978,142 C984,128 1001,124 1008,135 C1014,148 1001,156 990,162 C986,165 983,169 982,172 L979,172"/>
<path d="M978,149 C972,136 959,134 955,141 C952,149 962,155 970,161 L972,168"/>
<path d="M978,149 C984,136 997,134 1001,141 C1004,149 994,155 986,161 L984,168"/>
</g>
<circle cx="976" cy="155" r="3.3" fill="#fff" stroke="#111" stroke-width="1.1"/>
<text x="938" y="212" style="font-size:17px;fill:#111">M 1 : 5000</text>
<circle cx="981" cy="261" r="40.5" fill="#fff" stroke="#111" stroke-width="1.3"/>
<text x="981" y="275" text-anchor="middle" style="font-size:36px;fill:#111">A</text>
<!-- title -->
<text x="103" y="134" style="font-size:35px;fill:#111" textLength="313" lengthAdjust="spacingAndGlyphs">SCHÉMA AREÁLU</text>
<text x="107" y="163" style="font-size:18.5px;fill:#111" textLength="381" lengthAdjust="spacingAndGlyphs">S VYZNAČENÍM EXISTUJÚCICH OBJEKTOV</text>
<!-- labels -->
<text class="t" x="518" y="131" textLength="150" lengthAdjust="spacingAndGlyphs">Konečná zastávka</text>
<text class="t" x="543" y="153" textLength="125" lengthAdjust="spacingAndGlyphs">prímestskej HD</text>
<text class="t" x="394" y="190" textLength="190" lengthAdjust="spacingAndGlyphs">Nástup na "srdiečkové"</text>
<text class="t" x="411" y="213" textLength="174" lengthAdjust="spacingAndGlyphs">chodníky v lesoparku</text>
<text class="g" x="170" y="212" textLength="132" lengthAdjust="spacingAndGlyphs">Drevený altánok</text>
<text class="g" x="235" y="244">Altánok</text>
<text class="n" x="235" y="287">11</text>
<text class="t" x="160" y="310">LD Slovensko</text>
<text class="g" x="337" y="299" transform="rotate(28 337 299)">Vyhliadka</text>
<text class="g" x="95" y="352" textLength="143" lengthAdjust="spacingAndGlyphs">Stará trafostanica</text>
<text class="n" x="172" y="398">12</text>
<text class="t" x="101" y="421">LD Bratislava</text>
<text class="n" x="172" y="463">13</text>
<text class="t" x="133" y="486">LD Detva</text>
<text class="t" x="281" y="628">Peší chodník</text>
<text class="t" x="258" y="655">Alej - "špacírka"</text>
<text class="n" x="305" y="693">14</text>
<text class="t" x="217" y="718">Administratívna</text>
<text class="t" x="282" y="738">budova</text>
<text class="t" x="63" y="805" transform="rotate(10 63 805)">Sliač - centrum</text>
<text class="g" x="364" y="879" transform="rotate(-20 364 879)">Vyhliadka</text>
<text class="n" x="180" y="950">6</text>
<text class="t" x="35" y="975" textLength="180" lengthAdjust="spacingAndGlyphs">Hosp. budova, garáže</text>
<text class="n" x="181" y="1015">18</text>
<text class="t" x="93" y="1038">Bufet, Kolkáreň</text>
<text class="g" x="86" y="1083" textLength="132" lengthAdjust="spacingAndGlyphs">Drevený altánok</text>
<text class="t" x="180" y="1113">Natália</text>
<text class="t" x="51" y="1138" textLength="185" lengthAdjust="spacingAndGlyphs">(prístavba k LD Detva)</text>
<text class="n" x="244" y="1178">7</text>
<text class="t" x="88" y="1203" textLength="188" lengthAdjust="spacingAndGlyphs">Kaplnka sv. Hildegardy</text>
<text class="g" x="234" y="1235">Pramene</text>
<text class="t" x="566" y="1273" transform="rotate(-76 566 1273)">Prepoj na chodníky</text>
<text class="t" x="612" y="1222" transform="rotate(-78 612 1222)">v lesoparku</text>
<text class="g" x="617" y="1296">LD Coeur</text>
<text class="g" x="617" y="1315">rozostavaný</text>
<text class="n" x="700" y="1236">8</text>
<text class="t" x="695" y="1262" textLength="185" lengthAdjust="spacingAndGlyphs">Skleníky, záhradníctvo</text>
<text class="g" x="773" y="1234" textLength="184" lengthAdjust="spacingAndGlyphs">Plechový sklad / garáž</text>
<text class="g" x="851" y="1203" textLength="201" lengthAdjust="spacingAndGlyphs">Regulačná stanica plynu</text>
<text class="n" x="883" y="1160">5</text>
<text class="t" x="888" y="1183">Práčovňa, kotolňa</text>
<text class="n" x="905" y="1107">9</text>
<text class="t" x="915" y="1130">Nový Partizán</text>
<text class="t" x="931" y="1150">byty zamestnancov</text>
<text class="n" x="923" y="1066">16</text>
<text class="t" x="944" y="1087">Starý Partizán</text>
<text class="g" x="880" y="1025">Sklad</text>
<text class="n" x="944" y="995">15</text>
<text class="t" x="950" y="1016">LD Amália</text>
<text class="g" x="920" y="947" textLength="172" lengthAdjust="spacingAndGlyphs">Budova s min. vodou</text>
<text class="n" x="928" y="899">17</text>
<text class="t" x="933" y="922">Tatra stravovanie</text>
<text class="n" x="978" y="855">3</text>
<text class="t" x="975" y="878">Kúpeľný dom 1</text>
<text class="t" x="950" y="822">Pramenná komora</text>
<text class="n" x="980" y="766">4</text>
<text class="t" x="977" y="792">Kúpeľný dom 2</text>
<text class="n" x="990" y="612">19</text>
<text class="t" x="997" y="637">Letné</text>
<text class="t" x="997" y="660">kúpalisko,</text>
<text class="t" x="997" y="683">šatne, bufet</text>
<text class="g" x="962" y="576">Tenisové kurty</text>
<text class="g" x="934" y="552">Prameň</text>
<text class="n" x="909" y="505">2</text>
<text class="t" x="912" y="528">LD Poľana</text>
<text class="n" x="893" y="420">1</text>
<text class="t" x="893" y="444">Komplex LD Palace</text>
<text class="t" x="893" y="469">spoločenská časť</text>
<text class="n" x="895" y="333">1</text>
<text class="t" x="895" y="360">Komplex LD Palace</text>
<text class="t" x="895" y="382">ubytovacia časť</text>
<!-- legend -->
<line x1="38" y1="1371" x2="1062" y2="1371" stroke="#111" stroke-width="2"/>
<line x1="42" y1="1399" x2="148" y2="1399" stroke="#e8141b" stroke-width="3.5" stroke-dasharray="14 4 4 4"/>
<text class="t" x="172" y="1404" textLength="209" lengthAdjust="spacingAndGlyphs">Riešené územie - hranica</text>
<text x="459" y="1413" style="font-size:34px;fill:#111">10</text>
<text class="t" x="523" y="1408" textLength="294" lengthAdjust="spacingAndGlyphs">Označenie stavby v zmysle zadania</text>
<rect x="47" y="1423" width="101" height="33" fill="#c8a8d6" stroke="#111" stroke-width="1.8"/>
<text class="t" x="172" y="1446" textLength="180" lengthAdjust="spacingAndGlyphs">Budovy Kúpeľov Sliač</text>
<rect x="403" y="1423" width="101" height="33" fill="#999" stroke="#111" stroke-width="1.8"/>
<text class="t" x="526" y="1446" textLength="405" lengthAdjust="spacingAndGlyphs">Budovy Kúpeľov Sliač vedené ako NKP alebo PO</text>
</g>
</svg>
</body></html>
